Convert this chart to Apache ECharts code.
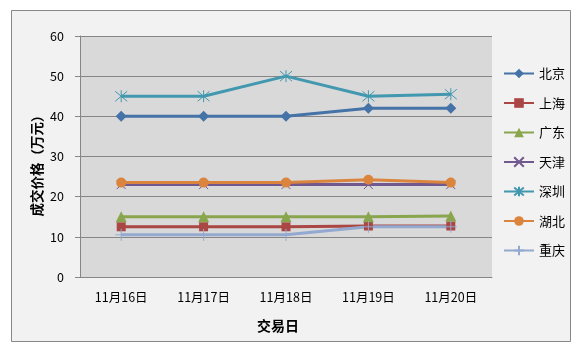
<!DOCTYPE html>
<html>
<head>
<meta charset="utf-8">
<script src="https://cdn.jsdelivr.net/npm/echarts@6/dist/echarts.min.js"></script>
<style>
html,body{margin:0;padding:0;background:#ffffff;}
#main{width:583px;height:352px;}
</style>
</head>
<body>
<div id="main"></div>
<script>
// 交易日 / 成交价格（万元）
var days = ['11月16日', '11月17日', '11月18日', '11月19日', '11月20日'];
var cities = ['北京', '上海', '广东', '天津', '深圳', '湖北', '重庆'];
var beijing = [40, 40, 40, 42, 42];
var shanghai = [12.5, 12.5, 12.5, 12.7, 12.7];
var guangdong = [15, 15, 15, 15, 15.2];
var tianjin = [23, 23, 23, 23, 23];
var shenzhen = [45, 45, 50, 45, 45.5];
var hubei = [23.5, 23.5, 23.5, 24.2, 23.5];
var chongqing = [10.5, 10.5, 10.5, 12.5, 12.5];

var colors = ['#4572a7', '#aa4643', '#89a54e', '#71588f', '#4198af', '#db843d', '#93a9cf'];
var symX = 'path://M0,0L10,10M10,0L0,10';
var symStar = 'path://M0,0L10,10M10,0L0,10M5,-1L5,11';
var symPlus = 'path://M5,0L5,10M2,5L8,5';

var chart = echarts.init(document.getElementById('main'));

function mk(name, data, color, symbol, size, stroke) {
	var s = {
		name: name,
		type: 'line',
		data: data,
		symbol: symbol,
		symbolSize: size,
		showSymbol: true,
		lineStyle: {color: color, width: 3},
		itemStyle: {color: color},
		emphasis: {disabled: true}
	};
	if (stroke) {
		s.itemStyle = {color: 'rgba(0,0,0,0)', borderColor: color, borderWidth: 1};
	}
	return s;
}

option = {
	animation: false,
	textStyle: {fontFamily: 'Noto Sans CJK SC'},
	graphic: [{
		type: 'rect',
		z: -10,
		shape: {x: 11.5, y: 10.5, width: 559, height: 331},
		style: {fill: '#f2f2f2', stroke: '#888888', lineWidth: 1}
	}],
	legend: {
		orient: 'vertical',
		left: 498,
		top: 62,
		itemWidth: 30,
		itemHeight: 12,
		itemGap: 16.5,
		textStyle: {color: '#000', fontSize: 13},
		data: cities
	},
	grid: {
		left: 80,
		top: 36,
		width: 412,
		height: 241,
		show: true,
		backgroundColor: '#d9d9d9',
		borderWidth: 0
	},
	xAxis: {
		type: 'category',
		data: days,
		boundaryGap: true,
		name: '交易日',
		nameLocation: 'middle',
		nameGap: 42,
		nameMoveOverlap: false,
		nameTextStyle: {color: '#000', fontSize: 14, fontWeight: 'bold', padding: [0, 16, 0, 0]},
		axisLine: {lineStyle: {color: '#868686'}},
		axisTick: {show: false},
		axisLabel: {color: '#000', fontSize: 12.5, margin: 14}
	},
	yAxis: {
		type: 'value',
		min: 0,
		max: 60,
		interval: 10,
		name: '成交价格（万元）',
		nameLocation: 'middle',
		nameGap: 36,
		nameMoveOverlap: false,
		nameTextStyle: {color: '#000', fontSize: 13.5, fontWeight: 'bold', padding: [0, 0, 0, -12]},
		axisLine: {show: true, lineStyle: {color: '#868686'}},
		axisTick: {show: true, inside: false, length: 5, lineStyle: {color: '#868686'}},
		axisLabel: {color: '#000', fontSize: 12.5, margin: 16},
		splitLine: {lineStyle: {color: '#868686'}}
	},
	series: [
		mk('北京', beijing, colors[0], 'diamond', 11, false),
		mk('上海', shanghai, colors[1], 'rect', 9, false),
		mk('广东', guangdong, colors[2], 'triangle', 11, false),
		mk('天津', tianjin, colors[3], symX, 9, true),
		mk('深圳', shenzhen, colors[4], symStar, 12, true),
		mk('湖北', hubei, colors[5], 'circle', 10, false),
		mk('重庆', chongqing, colors[6], symPlus, 12, true)
	]
};
chart.setOption(option);
</script>
</body>
</html>
